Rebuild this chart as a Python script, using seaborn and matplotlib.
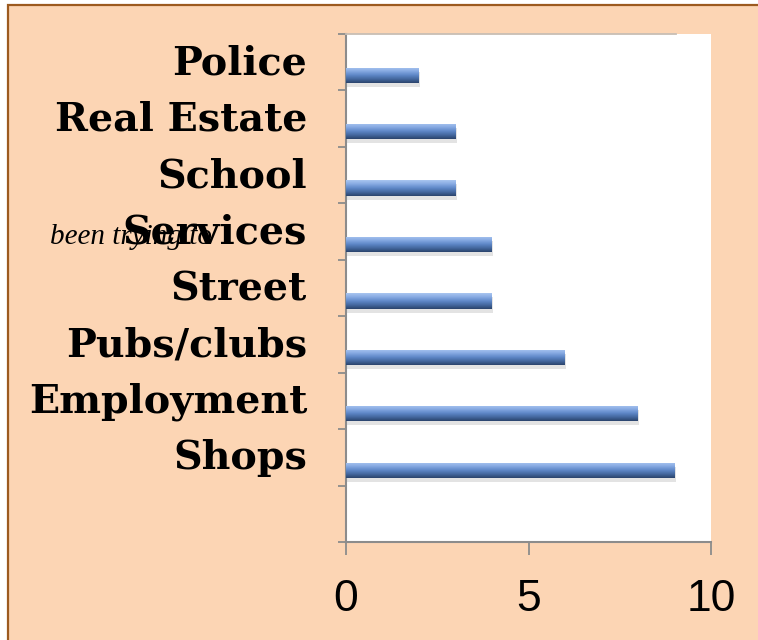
import numpy as np
import pandas as pd
import matplotlib
matplotlib.use("Agg")
import matplotlib.pyplot as plt
import matplotlib.transforms as mtransforms
from matplotlib.colors import LinearSegmentedColormap
from matplotlib.patches import Rectangle
import seaborn as sns

categories = ["Police", "Real Estate", "School", "Services", "Street",
              "Pubs/clubs", "Employment", "Shops"]
values = [2, 3, 3, 4, 4, 6, 8, 9]
x_ticks = [0, 5, 10]
stray_text = "been trying to"

sns.set_style("white")
plt.rcParams["font.family"] = ["DejaVu Serif"]
plt.rcParams["text.color"] = "black"
plt.rcParams["xtick.color"] = "black"
plt.rcParams["ytick.color"] = "black"

W, H = 758, 640
fig = plt.figure(figsize=(W / 100, H / 100), dpi=100, facecolor="white")

# peach panel with brown border (left and top edges visible)
fig.patches.append(Rectangle((8 / W, -0.1), 1.2, 1.1 - 5 / H,
                             transform=fig.transFigure,
                             facecolor="#FCD5B4", edgecolor="#9C5A1F", lw=1.6,
                             zorder=-5))

ax = fig.add_axes([346 / W, 1 - 542 / H, (711 - 346) / W, (542 - 34) / H])
ax.set_facecolor("white")

df = pd.DataFrame({"category": categories, "value": values})
sns.barplot(data=df, y="category", x="value", order=categories, orient="h",
            width=0.27, color="#4F7BBE", ax=ax, zorder=3)

cmap = LinearSegmentedColormap.from_list(
    "bev", ["#A9C6F0", "#86A9E2", "#5F88C8", "#44689F", "#2B446C"])
grad = np.linspace(0, 1, 64).reshape(-1, 1)
shift = 0.23
for p in list(ax.patches):
    p.set_y(p.get_y() + shift)
    x0, y0, w, h = p.get_x(), p.get_y(), p.get_width(), p.get_height()
    p.set_edgecolor("none")
    # soft shadow
    ax.add_patch(Rectangle((x0 + 0.04, y0 + 0.07), w, h, facecolor="#808080",
                           alpha=0.22, edgecolor="none", zorder=2))
    im = ax.imshow(grad, extent=[x0, x0 + w, y0 + h, y0], origin="upper",
                   cmap=cmap, aspect="auto", zorder=4, interpolation="bilinear")
    im.set_clip_path(p)

ax.set_xlim(0, 10)
ax.set_ylim(len(categories) + 0.5, -0.5)
ax.set_xlabel("")
ax.set_ylabel("")

ax.set_xticks(x_ticks)
ax.set_xticklabels([str(t) for t in x_ticks], family=["Liberation Sans"],
                   fontsize=32, color="black")
ax.tick_params(axis="x", direction="out", length=9.5, width=1.3,
               color="#8C8C8C", pad=17, bottom=True)

ax.set_yticks(range(len(categories)))
ax.set_yticklabels(categories, fontsize=28.5, fontweight="bold", color="black")
ax.tick_params(axis="y", which="major", length=0, pad=28)
ax.set_yticks(np.arange(-0.5, len(categories) + 1, 1.0), minor=True)
ax.tick_params(axis="y", which="minor", direction="out", length=6, width=1.3,
               color="#8C8C8C", left=True)
up = mtransforms.ScaledTranslation(0, 3 / 100, fig.dpi_scale_trans)
for lab in ax.get_yticklabels():
    lab.set_transform(lab.get_transform() + up)

ax.spines["right"].set_visible(False)
ax.spines["top"].set_color("#C8BEB4")
ax.spines["top"].set_linewidth(1.3)
ax.spines["top"].set_bounds(0, 9.05)
for s in ["left", "bottom"]:
    ax.spines[s].set_color("#8C8C8C")
    ax.spines[s].set_linewidth(1.5)

fig.text(50 / W, 1 - 244 / H, stray_text, family=["Liberation Serif"],
         style="italic", fontsize=21, ha="left", va="baseline", zorder=1,
         color="black")

fig.savefig("out.png", dpi=100, facecolor=fig.get_facecolor())
